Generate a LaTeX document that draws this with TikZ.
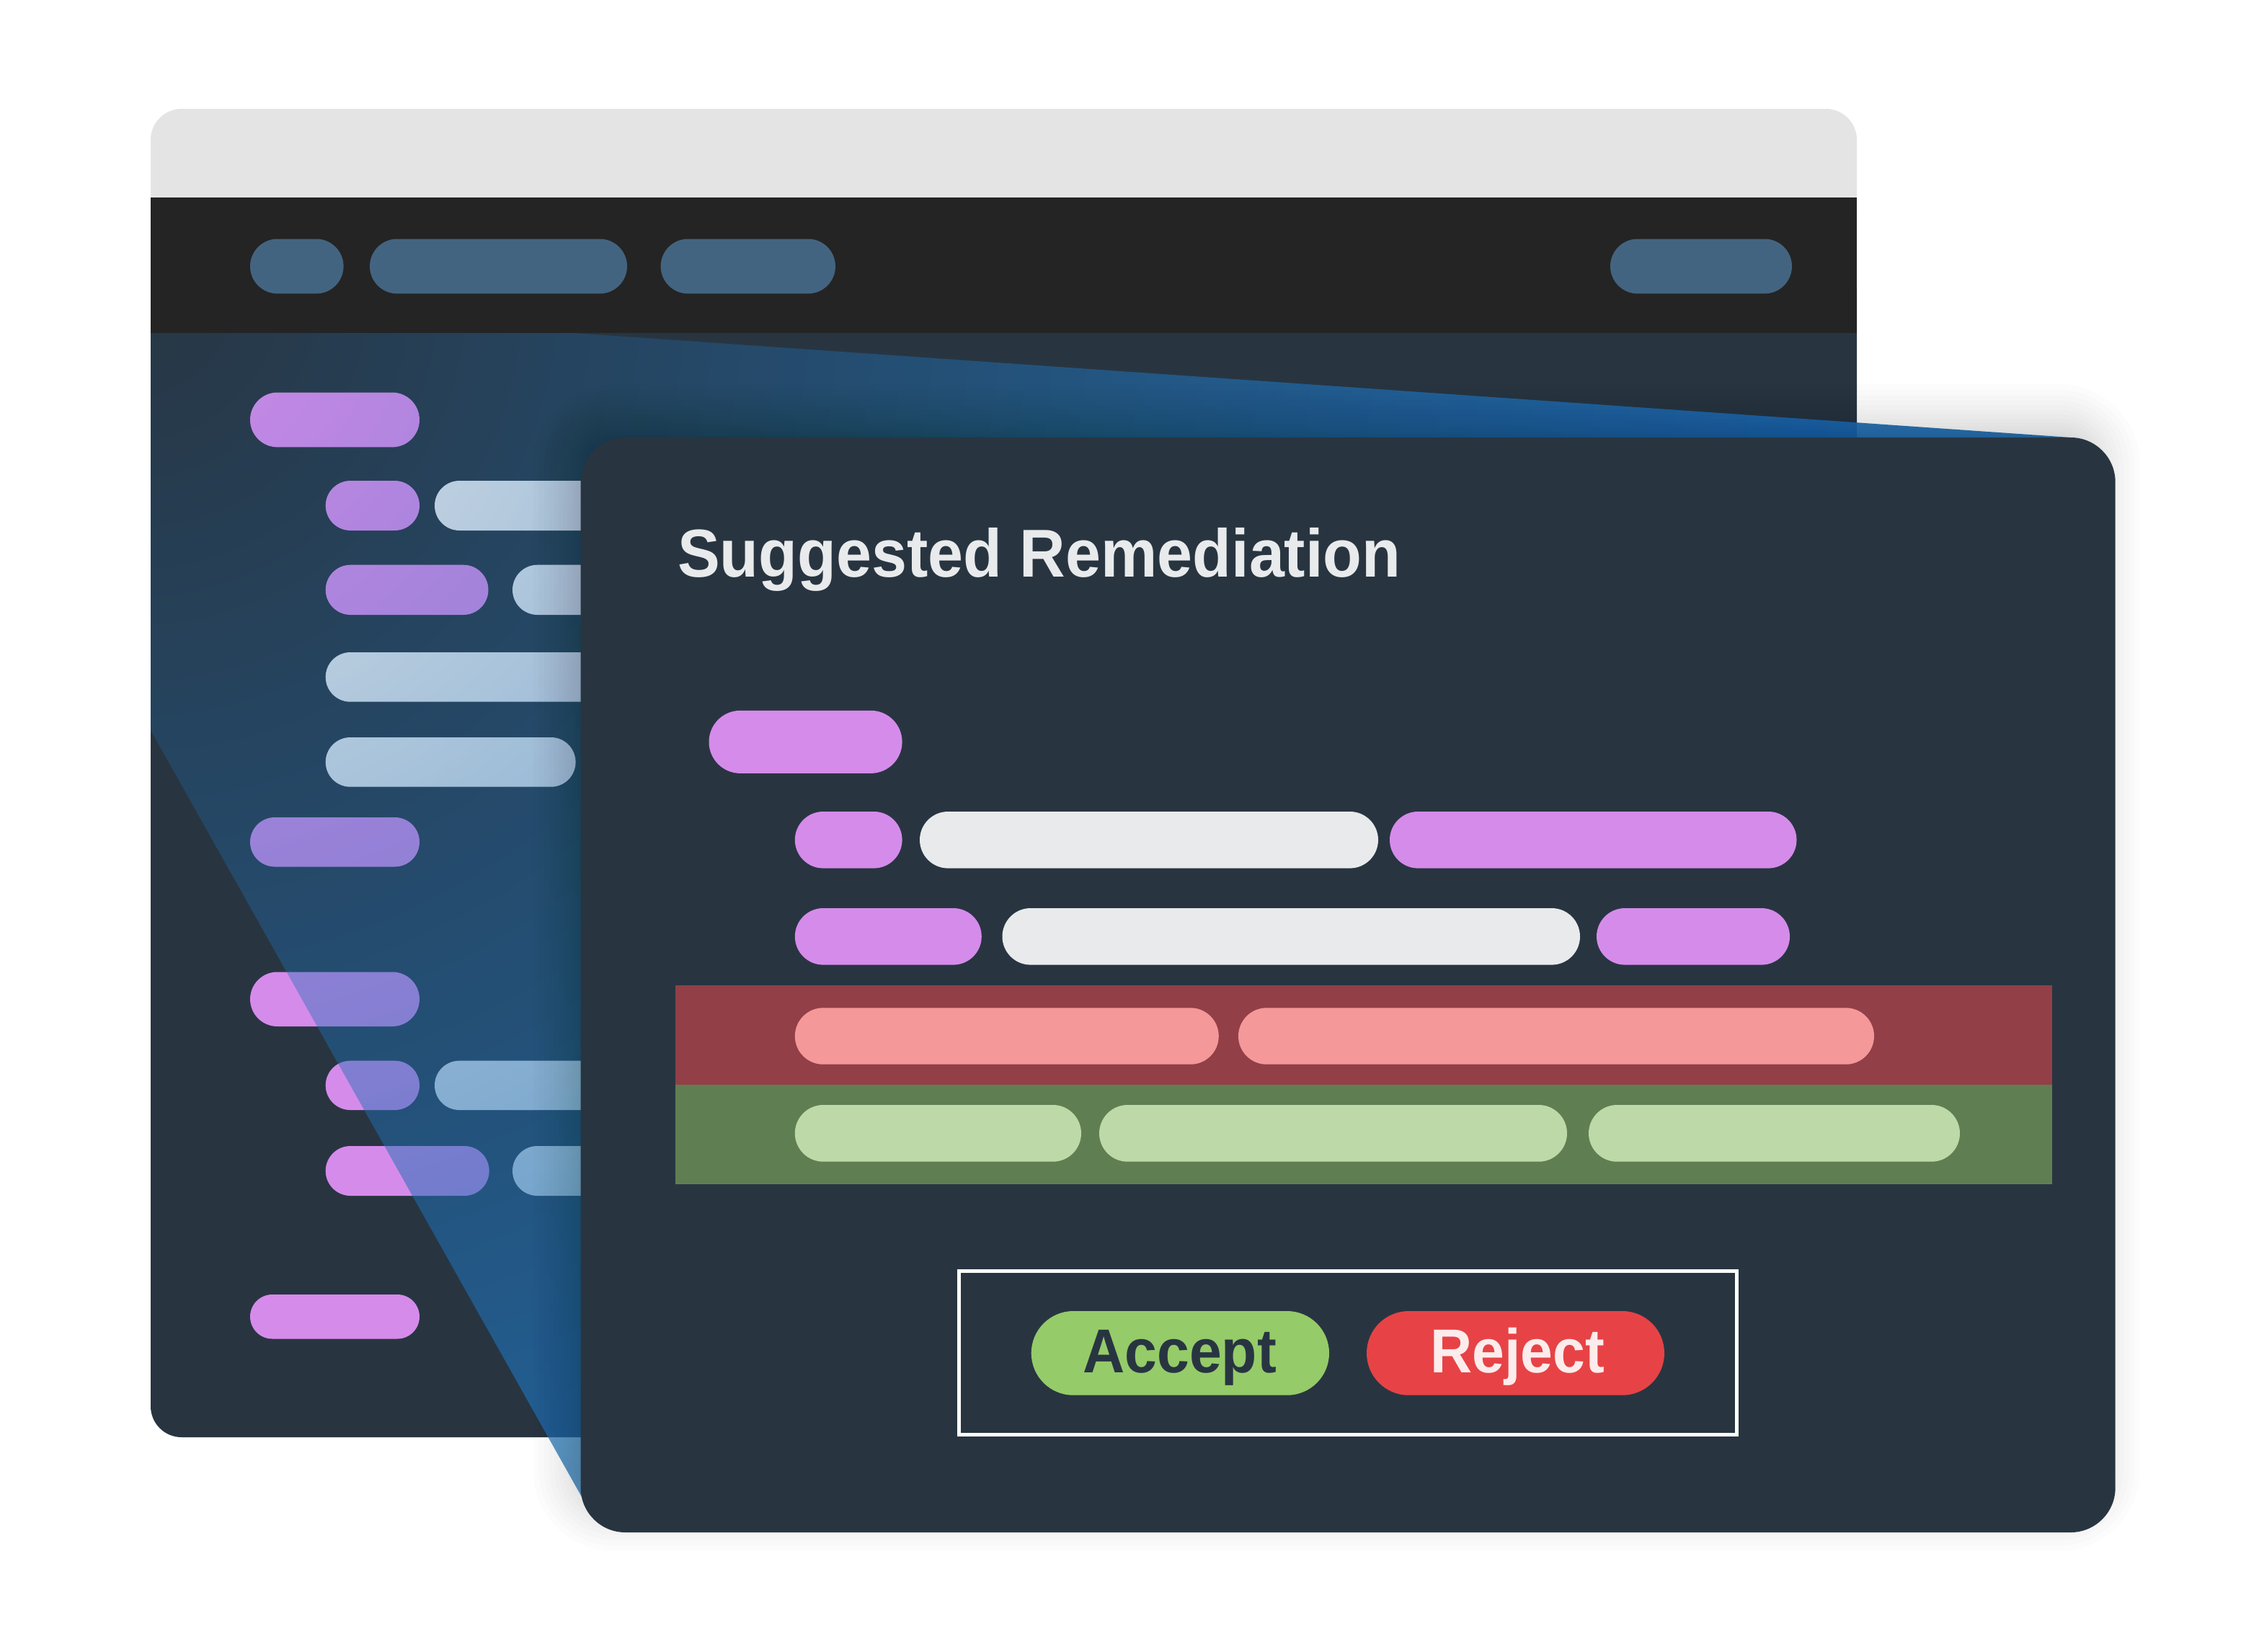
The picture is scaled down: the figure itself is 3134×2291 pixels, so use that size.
\documentclass[tikz,border=0pt]{standalone}
\usepackage{fontspec}
\usetikzlibrary{fadings}
\setmainfont[FakeStretch=0.937]{Liberation Sans}
\definecolor{chromegrey}{HTML}{E4E4E4}
\definecolor{barblack}{HTML}{242424}
\definecolor{paneldark}{HTML}{283541}
\definecolor{navblue}{HTML}{436480}
\definecolor{codepurple}{HTML}{D58BEA}
\definecolor{codewhite}{HTML}{E8EAEC}
\definecolor{beamblue}{HTML}{2070B5}
\definecolor{delband}{HTML}{933F47}
\definecolor{delpill}{HTML}{F49899}
\definecolor{addband}{HTML}{5F7F52}
\definecolor{addpill}{HTML}{BDD9A8}
\definecolor{acceptgreen}{HTML}{95CB69}
\definecolor{rejectred}{HTML}{E74346}
\definecolor{rejecttext}{HTML}{FDECEC}
\newcommand\pill[5]{\pgfmathsetmacro\pillr{abs(#4-#2)/2-0.01}\fill[#5,rounded corners=\pillr pt] (#1,#2) rectangle (#3,#4);}
\pgfdeclareradialshading{beamshade}{\pgfpointorigin}{%
  color(0bp)=(black!98!white);
  color(2.2bp)=(black!88!white);
  color(5.9bp)=(black!70!white);
  color(10.2bp)=(black!50!white);
  color(14.7bp)=(black!27!white);
  color(20bp)=(black!7!white);
  color(50bp)=(black!7!white)}
\pgfdeclarefading{beamfade}{\pgfuseshading{beamshade}}
\tikzset{
  nav/.style={fill=navblue},
  purple/.style={fill=codepurple},
  whitecode/.style={fill=codewhite},
  del/.style={fill=delpill},
  add/.style={fill=addpill},
  label/.style={inner sep=0pt,anchor=base west,font=\fontsize{#1}{#1}\selectfont\bfseries},
}
\begin{document}
\begin{tikzpicture}[x=1pt,y=-1pt]
\useasboundingbox (0,0) rectangle (3134,2291);
\fill[white] (0,0) rectangle (3134,2291);
% back window
\begin{scope}
\clip (0,0) rectangle (3134,300);
\fill[chromegrey,rounded corners=43pt] (209,151) rectangle (2576,600);
\end{scope}
\begin{scope}
\clip (0,400) rectangle (3134,2291);
\fill[paneldark,rounded corners=43pt] (209,200) rectangle (2576,1994);
\end{scope}
% code lines of back window
\pill{347}{544.5}{582}{620.4}{purple}
\pill{451.7}{667}{582}{736}{purple}
\pill{603}{667}{900}{736}{whitecode}
\pill{451.7}{783.7}{677.5}{853}{purple}
\pill{711}{783.7}{900}{853}{whitecode}
\pill{451.7}{905}{900}{973.7}{whitecode}
\pill{451.7}{1023}{798.6}{1091.7}{whitecode}
\pill{347}{1134}{582}{1202.5}{purple}
\pill{347}{1348.5}{582}{1424}{purple}
\pill{451.7}{1471.7}{582}{1540}{purple}
\pill{603}{1471.7}{900}{1540}{whitecode}
\pill{451.7}{1590}{678.7}{1659}{purple}
\pill{711}{1590}{900}{1659}{whitecode}
\pill{347}{1796}{582}{1857.5}{purple}
% light beam
\begin{scope}
\clip (209,461.6) -- (790,461.6) -- (2873,607) -- (2873,900) -- (812,2085.6) -- (209,1013) -- cycle;
\fill[beamblue,path fading=beamfade] (-2820,-2600) rectangle (3180,3400);
\end{scope}
% dark toolbar
\fill[barblack] (209,274) rectangle (2576,461.6);
\pill{347}{331.5}{476.6}{407.4}{nav}
\pill{513}{331.5}{870}{407.4}{nav}
\pill{916.6}{331.5}{1159}{407.4}{nav}
\pill{2234}{331.5}{2486}{407.4}{nav}
% soft shadow of front card
\foreach \i in {1,...,14}{
  \pgfmathsetmacro\sd{-24+74*(\i/14)^1.5}
  \pgfmathsetmacro\sr{62+\sd}
  \fill[black,opacity=0.011,rounded corners=\sr pt] (805.6-16-\sd,607-24-\sd) rectangle (2934.7-16+\sd,2126-24+\sd);
}
% front card
\fill[paneldark,rounded corners=62pt] (805.6,607) rectangle (2934.7,2126);
\node[label=94,text=codewhite] (title) at (940,800.5) {Suggested Remediation};
\pill{983.5}{985.8}{1251.6}{1072.9}{purple}
\pill{1102.8}{1126}{1251.6}{1204.6}{purple}
\pill{1276}{1126}{1912}{1204.6}{whitecode}
\pill{1928}{1126}{2492.5}{1204.6}{purple}
\pill{1102.8}{1260}{1361.8}{1338.6}{purple}
\pill{1390.5}{1260}{2192}{1338.6}{whitecode}
\pill{2215}{1260}{2483}{1338.6}{purple}
\fill[delband] (937,1366.6) rectangle (2847,1505);
\fill[addband] (937,1505) rectangle (2847,1643.3);
\pill{1102.8}{1398.3}{1690.8}{1476.7}{del}
\pill{1718}{1398.3}{2600}{1476.7}{del}
\pill{1102.8}{1533}{1500}{1611.7}{add}
\pill{1525}{1533}{2174}{1611.7}{add}
\pill{2204}{1533}{2719}{1611.7}{add}
% action box
\draw[white,line width=5pt] (1330.5,1763.5) rectangle (2409,1990.8);
\pill{1430.7}{1819}{1844}{1935.7}{fill=acceptgreen}
\pill{1896}{1819}{2309}{1935.7}{fill=rejectred}
\node[label=86,text=paneldark] (accept) at (1502,1904) {Accept};
\node[label=86,text=rejecttext] (reject) at (1984,1904) {Reject};
\end{tikzpicture}
\end{document}
